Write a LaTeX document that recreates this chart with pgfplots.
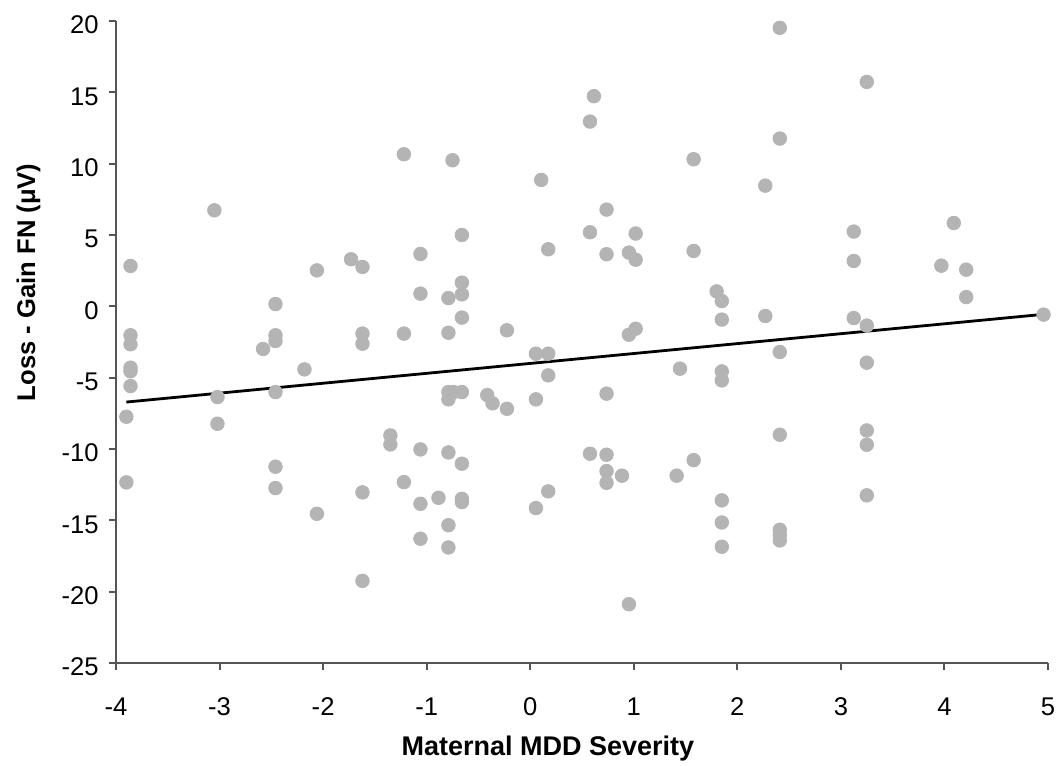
\documentclass[border=0pt]{standalone}
\usepackage{fontspec}
\setmainfont{Liberation Sans}
\usepackage{pgfplots}
\pgfplotsset{compat=1.18}
\definecolor{dotgray}{RGB}{180,180,180}
\definecolor{axgray}{RGB}{85,85,85}
\begin{document}
\begin{tikzpicture}
\useasboundingbox (-58pt,-51.35pt) rectangle (472pt,331.5pt);
\begin{axis}[
  scale only axis,
  width=466pt, height=321pt,
  xmin=-4, xmax=5, ymin=-25, ymax=20,
  xtick={-4,-3,...,5}, ytick={-25,-20,...,20},
  axis x line*=bottom, axis y line*=left,
  axis line style={axgray, line width=1pt},
  tick style={axgray, line width=1pt},
  tick align=outside,
  major tick length=3.7pt,
  clip=false,
  /pgf/number format/assume math mode=true,
  ticklabel style={font=\fontsize{12.8}{15}\selectfont},
  yticklabel style={inner sep=0pt, xshift=-4.8pt, yshift=-2pt},
  xticklabel style={inner sep=0pt, anchor=base, yshift=-22.3pt},
  xlabel={\textbf{Maternal MDD Severity}},
  ylabel={\textbf{Loss - Gain FN (μV)}},
  xlabel style={font=\fontsize{13.5}{16}\selectfont, at={(axis description cs:0.4635,-0.1433)}, anchor=base, inner sep=0pt},
  ylabel style={font=\fontsize{12.8}{15}\selectfont, at={(axis description cs:-0.0869,0.593)}, anchor=base, rotate=0, inner sep=0pt},
]
\addplot[only marks, mark=*, mark size=3.4pt, color=dotgray, draw=dotgray, fill=dotgray] coordinates {
(-3.86,2.83) (-3.86,-2.03) (-3.86,-2.66) (-3.86,-4.30) (-3.86,-4.55) (-3.86,-5.59) (-3.90,-7.74) (-3.90,-12.34)
(-3.05,6.73) (-3.02,-6.36) (-3.02,-8.23)
(-2.58,-2.99)
(-2.46,0.16) (-2.46,-2.03) (-2.46,-2.43) (-2.46,-6.01) (-2.46,-11.24) (-2.46,-12.74)
(-2.18,-4.42)
(-2.06,2.52) (-2.06,-14.54)
(-1.73,3.30)
(-1.62,2.76) (-1.62,-1.91) (-1.62,-2.62) (-1.62,-13.04) (-1.62,-19.24)
(-1.35,-9.05) (-1.35,-9.68)
(-1.22,10.66) (-1.22,-1.91) (-1.22,-12.32)
(-1.06,3.67) (-1.06,0.89) (-1.06,-10.03) (-1.06,-13.84) (-1.06,-16.29)
(-0.886,-13.42)
(-0.79,0.58) (-0.79,-1.85) (-0.79,-6.01) (-0.79,-6.52) (-0.79,-10.24) (-0.79,-15.34) (-0.79,-16.90)
(-0.75,10.24) (-0.74,-6.01)
(-0.66,5.00) (-0.66,1.66) (-0.66,0.84) (-0.66,-0.79) (-0.66,-6.01) (-0.66,-11.03) (-0.66,-13.49) (-0.66,-13.72)
(-0.415,-6.22)
(-0.364,-6.80)
(-0.225,-1.68) (-0.225,-7.18)
(0.055,-3.32) (0.055,-6.52) (0.055,-14.14)
(0.106,8.86)
(0.174,4.00) (0.174,-3.32) (0.174,-4.84) (0.174,-12.97)
(0.577,12.95) (0.577,5.19) (0.577,-10.33)
(0.615,14.73)
(0.737,6.78) (0.737,3.65) (0.737,-6.12) (0.737,-10.40) (0.737,-11.55) (0.737,-12.37)
(0.886,-11.87)
(0.953,3.77) (0.953,-1.99) (0.953,-20.88)
(1.018,5.10) (1.018,3.27) (1.018,-1.57)
(1.414,-11.87)
(1.446,-4.37)
(1.578,10.31) (1.578,3.88) (1.578,-10.78)
(1.80,1.05)
(1.85,0.37) (1.85,-0.93) (1.85,-4.56) (1.85,-5.19) (1.85,-13.60) (1.85,-15.15) (1.85,-16.85)
(2.27,8.46) (2.27,-0.68)
(2.41,19.52) (2.41,11.76) (2.41,-3.20) (2.41,-9.00) (2.41,-15.66) (2.41,-16.06) (2.41,-16.41)
(3.124,5.24) (3.124,3.18) (3.124,-0.82)
(3.25,15.73) (3.25,-1.35) (3.25,-3.95) (3.25,-8.70) (3.25,-9.70) (3.25,-13.25)
(3.97,2.85)
(4.09,5.84)
(4.21,2.57) (4.21,0.65)
(4.957,-0.58)
};
\addplot[black, line width=1.4pt] coordinates {(-3.90,-6.71) (4.957,-0.56)};
\end{axis}
\end{tikzpicture}
\end{document}
